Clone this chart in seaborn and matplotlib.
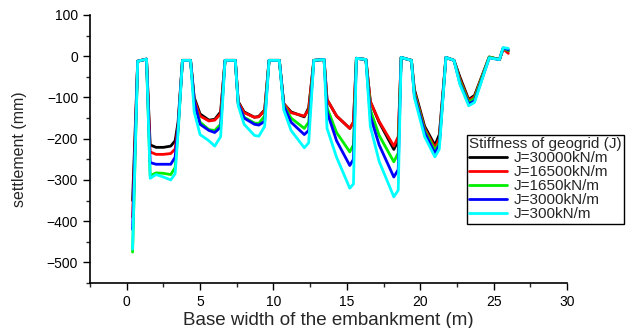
import pandas as pd
import matplotlib
matplotlib.use("Agg")
import matplotlib.pyplot as plt
import seaborn as sns
from matplotlib.ticker import MultipleLocator

# distance along the base (m), shared by all five curves
x_m = [0.4, 0.75, 1.35, 1.6, 2.0, 2.5, 3.0, 3.3, 3.5, 3.8,
       4.35, 4.6, 5.0, 5.6, 6.0, 6.4, 6.7,
       7.4, 7.6, 8.0, 8.7, 9.0, 9.4, 9.7,
       10.4, 10.7, 11.2, 12.1, 12.4, 12.75,
       13.45, 13.65, 14.3, 15.2, 15.45, 15.65,
       16.3, 16.6, 17.2, 18.2, 18.5, 18.7,
       19.4, 19.6, 20.3, 21.0, 21.3, 21.75,
       22.3, 22.7, 23.3, 23.7, 24.7, 25.4, 25.65, 26.0]

# settlement (mm) for each geogrid stiffness
j30000 = [-350, -12, -7, -215, -221, -221, -218, -205, -160, -10,
          -10, -100, -140, -155, -153, -135, -10,
          -10, -110, -135, -148, -146, -130, -10,
          -10, -115, -135, -147, -125, -10,
          -8, -105, -145, -175, -160, -5,
          -8, -110, -160, -226, -205, -3,
          -10, -80, -170, -216, -190, -3,
          -10, -50, -105, -95, -2, -8, 18, 12]
j16500 = [-390, -12, -7, -232, -238, -238, -236, -225, -170, -10,
          -10, -105, -145, -157, -155, -140, -10,
          -10, -112, -137, -148, -147, -132, -10,
          -10, -115, -137, -145, -130, -10,
          -8, -105, -145, -175, -160, -5,
          -8, -110, -158, -218, -195, -3,
          -10, -85, -175, -222, -200, -3,
          -10, -55, -108, -98, -2, -8, 18, 7]
j1650 = [-475, -12, -7, -290, -283, -284, -287, -270, -180, -10,
         -10, -110, -160, -178, -180, -165, -10,
         -10, -115, -148, -162, -163, -145, -10,
         -10, -118, -150, -175, -160, -10,
         -8, -125, -185, -232, -215, -5,
         -8, -130, -192, -256, -235, -3,
         -10, -90, -180, -228, -210, -3,
         -10, -60, -112, -102, -2, -8, 19, 14]
j3000 = [-420, -12, -7, -258, -262, -262, -262, -245, -175, -10,
         -10, -110, -165, -180, -185, -172, -10,
         -10, -115, -150, -165, -167, -158, -10,
         -10, -120, -160, -190, -180, -10,
         -8, -135, -205, -265, -250, -5,
         -8, -145, -215, -293, -275, -3,
         -10, -95, -185, -236, -215, -3,
         -10, -65, -116, -108, -4, -8, 20, 16]
j300 = [-468, -12, -7, -296, -287, -293, -300, -285, -185, -10,
        -10, -135, -190, -205, -218, -195, -10,
        -10, -120, -165, -192, -194, -170, -10,
        -10, -130, -180, -222, -210, -10,
        -8, -175, -245, -320, -310, -5,
        -8, -170, -255, -341, -325, -3,
        -10, -100, -195, -244, -225, -3,
        -10, -68, -120, -112, -4, -8, 21, 19]

labels = ["J=30000kN/m", "J=16500kN/m", "J=1650kN/m", "J=3000kN/m", "J=300kN/m"]
series = [j30000, j16500, j1650, j3000, j300]
colors = ["#000000", "#ff0000", "#00ee00", "#0000ff", "#00ffff"]

rows = []
for lab, ys in zip(labels, series):
    for xv, yv in zip(x_m, ys):
        rows.append([lab, xv, yv])
df = pd.DataFrame(rows, columns=["stiffness", "x", "settlement"])

sns.set_style("ticks")
plt.rcParams["font.family"] = ["Liberation Sans", "DejaVu Sans"]

fig = plt.figure(figsize=(6.36, 3.28), dpi=100)
ax = fig.add_axes([90 / 636, 1 - 283 / 328, (567 - 90) / 636, (283 - 15) / 328])

sns.lineplot(data=df, x="x", y="settlement", hue="stiffness", hue_order=labels,
             palette=colors, sort=False, estimator=None, linewidth=2.0, ax=ax)
# cyan sits on top and looks a bit heavier
ax.lines[-1].set_linewidth(2.4)

ax.set_xlim(-2.5, 30)
ax.set_ylim(-550, 100)
ax.xaxis.set_major_locator(MultipleLocator(5))
ax.xaxis.set_minor_locator(MultipleLocator(2.5))
ax.yaxis.set_major_locator(MultipleLocator(100))
ax.yaxis.set_minor_locator(MultipleLocator(50))
ax.tick_params(which="major", direction="out", length=5, width=1, labelsize=10, colors="black")
ax.tick_params(which="minor", direction="out", length=3, width=1)
for s in ["left", "bottom"]:
    ax.spines[s].set_linewidth(1.2)
    ax.spines[s].set_color("black")
sns.despine(ax=ax)

ax.set_xlabel("Base width of the embankment (m)", fontsize=13.5, labelpad=2)
ax.set_ylabel("settlement (mm)", fontsize=11.5, labelpad=14)

leg = ax.legend(title="Stiffness of geogrid (J)", loc="upper left",
                bbox_to_anchor=(467 / 636, 1 - 135 / 328), bbox_transform=fig.transFigure,
                borderaxespad=0, fontsize=11, title_fontsize=11, frameon=True,
                fancybox=False, framealpha=1, edgecolor="black", labelspacing=0.0,
                borderpad=0.15, handlelength=2.5, handletextpad=0.4)
leg._legend_box.align = "left"
leg.get_frame().set_linewidth(1.0)
for line in leg.get_lines():
    line.set_linewidth(2.0)

fig.savefig("out.png", dpi=100)
